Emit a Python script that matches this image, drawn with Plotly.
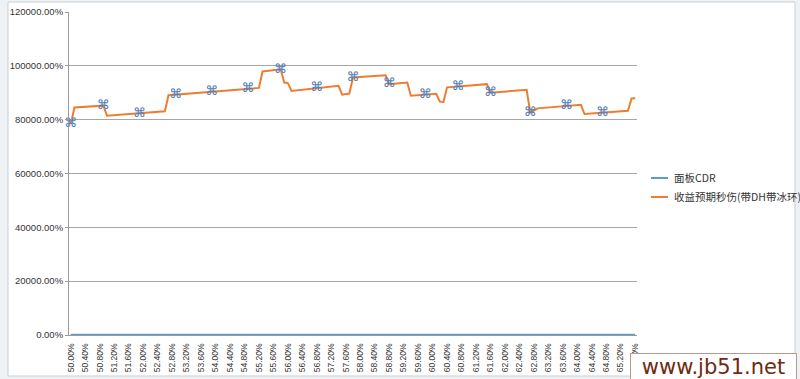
import plotly.graph_objects as go

# ---------------- data ----------------
# x tick labels of the category axis (panel CDR)
x_tick_labels = ["50.00%", "50.40%", "50.80%", "51.20%", "51.60%", "52.00%", "52.40%", "52.80%",
                 "53.20%", "53.60%", "54.00%", "54.40%", "54.80%", "55.20%", "55.60%", "56.00%",
                 "56.40%", "56.80%", "57.20%", "57.60%", "58.00%", "58.40%", "58.80%", "59.20%",
                 "59.60%", "60.00%", "60.40%", "60.80%", "61.20%", "61.60%", "62.00%", "62.40%",
                 "62.80%", "63.20%", "63.60%", "64.00%", "64.40%", "64.80%", "65.20%", "65.60%"]
x_tick_vals = [float(s[:-1]) / 100 for s in x_tick_labels]

y_tick_vals = [0, 200, 400, 600, 800, 1000, 1200]

# series 1: 面板CDR (value equals the CDR itself, lies on the baseline)
cdr_series_x = [0.500, 0.656]
cdr_series_y = [0.500, 0.656]

# series 2: 收益预期秒伤(带DH带冰环) – vertices of the orange line
dmg_cdr = [0.500, 0.501, 0.509, 0.510, 0.526, 0.527, 0.552, 0.553, 0.558, 0.559,
           0.560, 0.561, 0.574, 0.575, 0.577, 0.578, 0.587, 0.588, 0.593, 0.594,
           0.601, 0.602, 0.603, 0.604, 0.615, 0.616, 0.626, 0.627, 0.629, 0.637,
           0.641, 0.642, 0.654, 0.655, 0.656]
dmg_val = [784, 845, 852, 815, 831, 891, 918, 979, 987, 938,
           936, 907, 926, 893, 897, 957, 965, 932, 938, 889,
           896, 867, 866, 920, 932, 900, 911, 826, 842, 850,
           855, 821, 833, 879, 880]

# highlighted points (blue ⌘-like markers) on the orange series
mark_cdr = [0.500, 0.509, 0.519, 0.529, 0.539, 0.549, 0.558, 0.568,
            0.578, 0.588, 0.598, 0.607, 0.616, 0.627, 0.637, 0.647]
mark_val = [784, 852, 821, 891, 904, 915, 987, 917,
            957, 932, 892, 923, 900, 826, 850, 826]

series_names = ["面板CDR", "收益预期秒伤(带DH带冰环)"]
blue = "#5B9BD5"
orange = "#ED7D31"

# ---------------- figure ----------------
W, H = 800, 379
ML, MR, MT, MB = 69, 163, 12, 44
PW, PH = W - ML - MR, H - MT - MB


def px(xp):
    return (xp - ML) / PW


def py(yp):
    return (H - MB - yp) / PH


fig = go.Figure()

fig.add_trace(go.Scatter(x=dmg_cdr, y=dmg_val, mode="lines", name=series_names[1],
                         line=dict(color=orange, width=2), showlegend=False,
                         hoverinfo="skip"))
fig.add_trace(go.Scatter(x=cdr_series_x, y=cdr_series_y, mode="lines", name=series_names[0],
                         line=dict(color=blue, width=2), showlegend=False,
                         hoverinfo="skip", cliponaxis=False))
fig.add_trace(go.Scatter(x=mark_cdr, y=mark_val, mode="text", text=["⌘"] * len(mark_cdr),
                         textposition="middle center",
                         textfont=dict(family="DejaVu Sans", size=13, color="#5a82b8",
                                       weight="bold"),
                         showlegend=False, hoverinfo="skip", cliponaxis=False))

# chart-area frame
shapes = [
    dict(type="rect", xref="paper", yref="paper", x0=px(8), x1=px(795), y0=py(376), y1=py(2),
         fillcolor="white", line=dict(color="#c9cfd4", width=1), layer="below"),
]
# manual legend lines
for yy, col in [(178, blue), (197, orange)]:
    shapes.append(dict(type="line", xref="paper", yref="paper", x0=px(651), x1=px(668),
                       y0=py(yy), y1=py(yy), line=dict(color=col, width=2)))

annotations = [
    dict(xref="paper", yref="paper", x=px(672), y=py(178), text=series_names[0],
         showarrow=False, xanchor="left", yanchor="middle",
         font=dict(family="Noto Sans CJK SC", size=10.5, color="#333333")),
    dict(xref="paper", yref="paper", x=px(672), y=py(197), text=series_names[1],
         showarrow=False, xanchor="left", yanchor="middle",
         font=dict(family="Noto Sans CJK SC", size=10.5, color="#333333")),
    # watermark box
    dict(xref="paper", yref="paper", x=px(713), y=py(367), text="www.jb51.net",
         showarrow=False, xanchor="center", yanchor="middle",
         bgcolor="white", bordercolor="#b39a8a", borderwidth=1, borderpad=1,
         width=163, height=24,
         font=dict(family="DejaVu Sans", size=21, color="#6e2a12")),
]

fig.update_layout(
    width=W, height=H,
    margin=dict(l=ML, r=MR, t=MT, b=MB, autoexpand=False),
    paper_bgcolor="#eef2f4",
    plot_bgcolor="white",
    showlegend=False,
    shapes=shapes,
    annotations=annotations,
    xaxis=dict(range=[0.4995, 0.6565], tickmode="array", tickvals=x_tick_vals,
               ticktext=x_tick_labels, tickangle=-90, showgrid=False, zeroline=False,
               showline=True, linecolor="#9a9a9a", linewidth=1, ticks="",
               ticklabelstandoff=4,
               tickfont=dict(family="Liberation Sans", size=8.5, color="#333333")),
    yaxis=dict(range=[0, 1200], tickmode="array", tickvals=y_tick_vals, tickformat=".2%",
               showgrid=True, gridcolor="#a6a6a6", gridwidth=1, zeroline=False,
               showline=True, linecolor="#9a9a9a", linewidth=1,
               ticks="outside", ticklen=3, tickcolor="#9a9a9a",
               tickfont=dict(family="Liberation Sans", size=9.5, color="#333333")),
)

fig.write_html("out.html", config={"displayModeBar": False},
               post_script="document.body.style.margin='0';document.body.style.overflow='hidden';")
